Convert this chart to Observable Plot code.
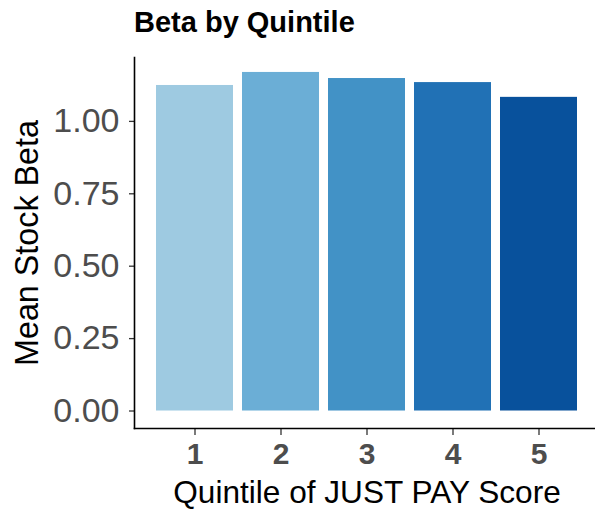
<!DOCTYPE html>
<html><head><meta charset="utf-8">
<script src="https://cdn.jsdelivr.net/npm/d3@7"></script>
<script src="https://cdn.jsdelivr.net/npm/@observablehq/plot@0.6"></script>
<style>
body{margin:0;background:#fff;font-family:"Liberation Sans",Arial,sans-serif;}
#wrap{position:relative;width:595px;height:513px;}
#title{position:absolute;left:134px;top:6px;font-weight:bold;font-size:29px;color:#000;line-height:normal;}
#wrap svg{position:absolute;left:0;top:0;}
</style></head><body><div id="wrap"><div id="title">Beta by Quintile</div></div>
<script>
const quintiles = ["1","2","3","4","5"];
const betas = [1.124, 1.169, 1.148, 1.134, 1.083];
const colors = ["#9ECAE1","#6BAED6","#4292C6","#2171B5","#08519C"];
const yTicks = [0, 0.25, 0.5, 0.75, 1];
const xTitle = "Quintile of JUST PAY Score";
const yTitle = "Mean Stock Beta";

const data = quintiles.map((q, i) => ({q, beta: betas[i]}));

const chart = Plot.plot({
  width: 595, height: 513,
  marginLeft: 134, marginRight: 0, marginTop: 57, marginBottom: 85,
  style: {fontFamily: '"Liberation Sans", Arial, sans-serif', background: "transparent", color: "#000"},
  x: {domain: quintiles, range: [155, 579], paddingInner: 0.1, paddingOuter: 0},
  y: {domain: [-0.0604, 1.2206]},
  color: {domain: quintiles, range: colors},
  marks: [
    Plot.barY(data, {x: "q", y: "beta", fill: "q"}),
    Plot.axisY({ticks: yTicks, tickFormat: d3.format(".2f"), tickSize: 5, tickPadding: 10,
      fontSize: 34, fill: "#4D4D4D", stroke: "#333", strokeWidth: 1.3, label: null}),
    Plot.axisX({tickSize: 7, tickPadding: 7, fontSize: 30, fontWeight: "bold",
      fill: "#4D4D4D", stroke: "#333", strokeWidth: 1.3, label: null}),
    Plot.frame({anchor: "left", stroke: "#000", strokeWidth: 1.6}),
    Plot.frame({anchor: "bottom", stroke: "#000", strokeWidth: 1.6}),
    Plot.text([xTitle], {frameAnchor: "bottom", textAnchor: "middle", lineAnchor: "middle", text: d => d, dx: 2, dy: 64, fontSize: 31.6, fill: "#000"}),
    Plot.text([yTitle], {frameAnchor: "left", textAnchor: "middle", lineAnchor: "middle", text: d => d, rotate: -90, dx: -107, fontSize: 32.3, fill: "#000"})
  ]
});
document.getElementById("wrap").appendChild(chart);
</script>
</body></html>
